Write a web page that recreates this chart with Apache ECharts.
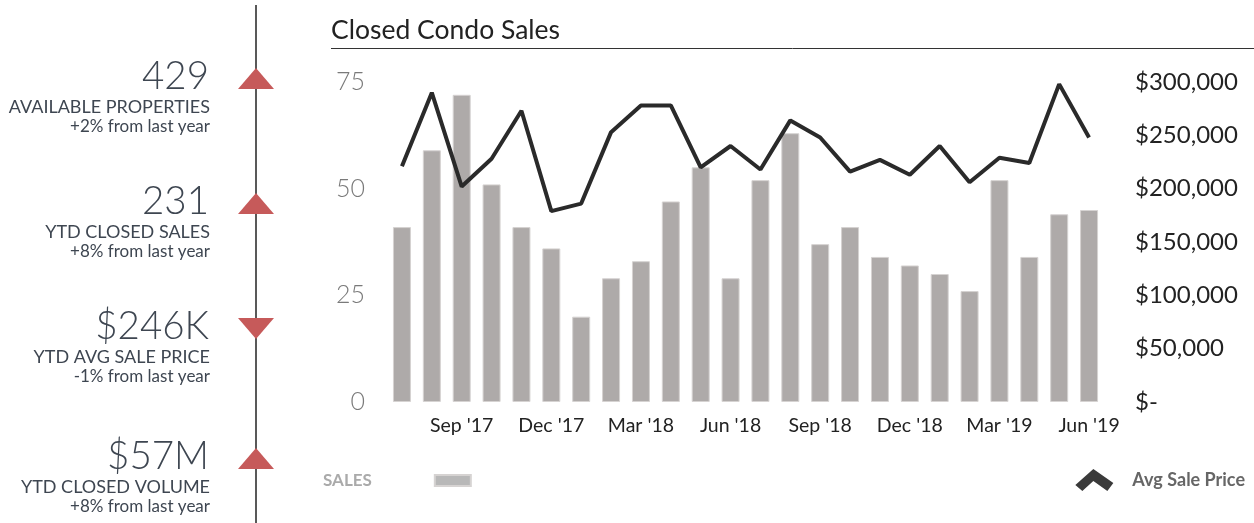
<html lang="en">
<head>
<meta charset="utf-8">
<title>Closed Condo Sales</title>
<script src="https://cdn.jsdelivr.net/npm/echarts@6/dist/echarts.min.js"></script>
<style>
  html, body { margin: 0; padding: 0; background: #fff; }
  #main { width: 1254px; height: 523px; }
</style>
</head>
<body>
<div id="main"></div>
<script>
// months Jul '17 .. Jun '19
var months = ["Jul '17", "Aug '17", "Sep '17", "Oct '17", "Nov '17", "Dec '17",
  "Jan '18", "Feb '18", "Mar '18", "Apr '18", "May '18", "Jun '18",
  "Jul '18", "Aug '18", "Sep '18", "Oct '18", "Nov '18", "Dec '18",
  "Jan '19", "Feb '19", "Mar '19", "Apr '19", "May '19", "Jun '19"];
var sales = [41, 59, 72, 51, 41, 36, 20, 29, 33, 47, 55, 29,
  52, 63, 37, 41, 34, 32, 30, 26, 52, 34, 44, 45];
var avgPrice = [221000, 290000, 202000, 228000, 273000, 179000, 186000, 253000, 278000, 278000, 220000, 240000,
  218000, 264000, 248000, 216000, 227000, 213000, 240000, 206000, 229000, 224000, 298000, 248000];

// left side stats
var statValues = ['429', '231', '$246K', '$57M'];
var statLabels = ['AVAILABLE PROPERTIES', 'YTD CLOSED SALES', 'YTD AVG SALE PRICE', 'YTD CLOSED VOLUME'];
var statChanges = ['+2% from last year', '+8% from last year', '-1% from last year', '+8% from last year'];
var statUp = [true, true, false, true];

var FONT = 'Lato, "Open Sans", sans-serif';
var statTop = [77, 202, 327, 457];

var graphics = [
  { type: 'line', shape: { x1: 256, y1: 5, x2: 256, y2: 523 }, style: { stroke: '#222', lineWidth: 1.5 } },
  { type: 'text', style: { x: 331, y: 30, text: 'Closed Condo Sales', fill: '#222', font: '400 26.5px ' + FONT, textVerticalAlign: 'middle' } },
  { type: 'line', shape: { x1: 331, y1: 48.5, x2: 1254, y2: 48.5 }, style: { stroke: '#333', lineWidth: 1 } }
];

for (var i = 0; i < statValues.length; i++) {
  var y = statTop[i];
  graphics.push({ type: 'text', style: { x: 209, y: y, text: statValues[i], fill: '#3e4651', font: '300 38.5px ' + FONT, textAlign: 'right', textVerticalAlign: 'middle' } });
  graphics.push({ type: 'text', style: { x: 210, y: y + 30, text: statLabels[i], fill: '#3e4651', font: '400 18px ' + FONT, textAlign: 'right', textVerticalAlign: 'middle' } });
  graphics.push({ type: 'text', style: { x: 210, y: y + 50, text: statChanges[i], fill: '#3e4651', font: '400 17px ' + FONT, textAlign: 'right', textVerticalAlign: 'middle' } });
  var pts = statUp[i]
    ? [[256, y - 9], [274, y + 12], [238, y + 12]]
    : [[238, y - 9], [274, y - 9], [256, y + 12]];
  graphics.push({ type: 'polygon', shape: { points: pts }, style: { fill: '#c65a5a' } });
}

var chart = echarts.init(document.getElementById('main'));
chart.setOption({
  animation: false,
  textStyle: { fontFamily: FONT },
  graphic: graphics,
  grid: { left: 387, right: 150, top: 82, bottom: 121 },
  legend: [
    {
      data: ['SALES'],
      left: 318, top: 467,
      align: 'right',
      itemWidth: 36, itemHeight: 11,
      icon: 'rect',
      itemStyle: { color: '#b8b8b8' },
      textStyle: { color: '#aaa', fontSize: 17, fontWeight: 'bold', padding: [0, 58, 0, 0] }
    },
    {
      data: ['Avg Sale Price'],
      right: 4, top: 464,
      itemWidth: 38, itemHeight: 22,
      icon: 'path://M0,16 L18,0 L38,14 L32,22 L18,12 L7,22 Z',
      itemStyle: { color: '#3a3a3a' },
      textStyle: { color: '#666', fontSize: 18, fontWeight: 'bold', padding: [0, 0, 0, 14] }
    }
  ],
  xAxis: {
    type: 'category',
    data: months,
    axisLine: { show: false },
    axisTick: { show: false },
    axisLabel: {
      interval: function (idx) { return idx % 3 === 2; },
      color: '#222', fontSize: 19.5, margin: 14
    }
  },
  yAxis: [
    {
      type: 'value', min: 0, max: 75, interval: 25,
      splitLine: { show: false },
      axisLabel: { color: '#7a7a7a', fontSize: 25, fontWeight: 300, margin: 22 }
    },
    {
      type: 'value', min: 0, max: 300000, interval: 50000,
      splitLine: { show: false },
      axisLabel: {
        color: '#222', fontSize: 24, margin: 31,
        formatter: function (v) { return v === 0 ? '$-' : '$' + v.toLocaleString('en-US'); }
      }
    }
  ],
  series: [
    {
      name: 'SALES', type: 'bar', data: sales, barWidth: 18,
      itemStyle: { color: '#aeaaa9', borderColor: '#d6d3d2', borderWidth: 1 }
    },
    {
      name: 'Avg Sale Price', type: 'line', yAxisIndex: 1, data: avgPrice,
      symbol: 'none', lineStyle: { color: '#2a2a2a', width: 4 }, itemStyle: { color: '#2a2a2a' }
    }
  ]
});
</script>
</body>
</html>
